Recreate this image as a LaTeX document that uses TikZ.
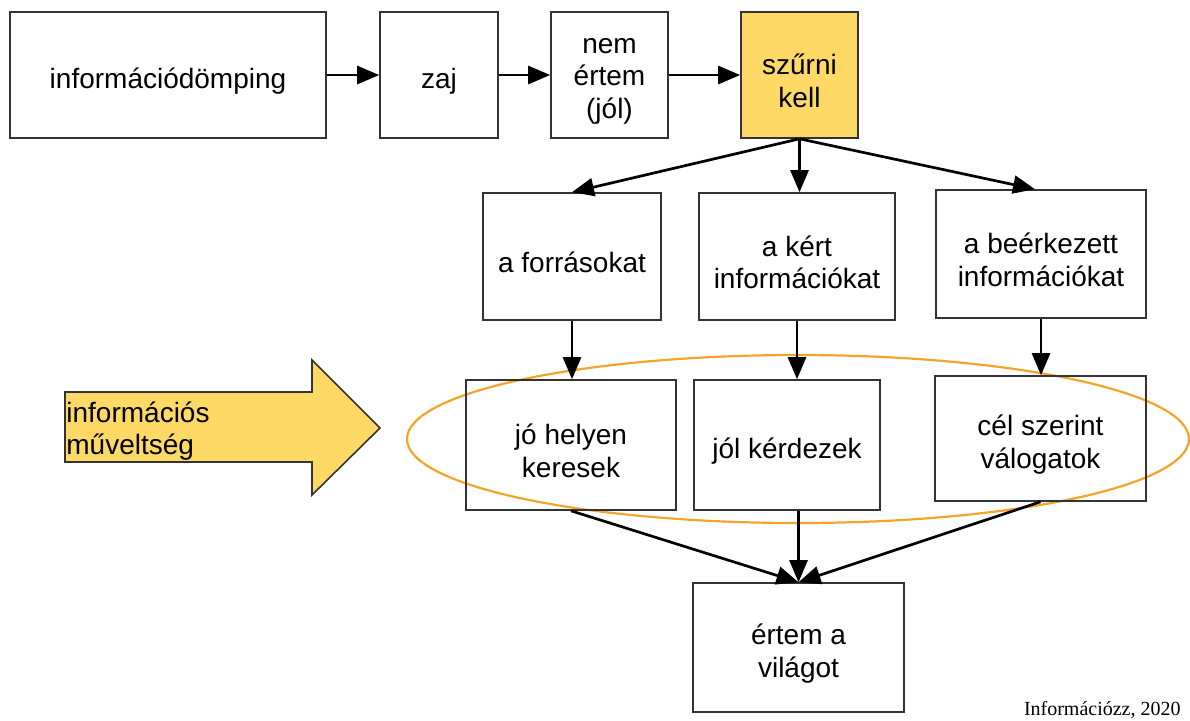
\documentclass[tikz,border=0pt]{standalone}
\usepackage{fontspec}
\setmainfont{Liberation Sans}
\newfontfamily\creditfont{Liberation Serif}
\usetikzlibrary{arrows.meta}
\definecolor{boxline}{HTML}{333333}
\definecolor{hilite}{HTML}{FFD966}
\definecolor{ringcol}{HTML}{F4A428}
\begin{document}
\begin{tikzpicture}[x=0.5pt,y=-0.5pt,
  every node/.style={font=\fontsize{14}{16.3}\selectfont},
  stepbox/.style={draw=boxline,line width=0.8pt,fill=white,inner sep=0pt},
  boxtext/.style={label={[align=center,inner sep=0pt,yshift=-3pt]center:{#1}}},
  flow/.style={draw=black,line width=1.35pt,-{Triangle[length=11pt,width=9pt]}}]
\useasboundingbox (0,0) rectangle (1190,720);

% top row
\node[stepbox,minimum width=158pt,minimum height=63pt,boxtext={információdömping}] (dump) at (168,75) {};
\node[stepbox,minimum width=59pt,minimum height=63pt,boxtext={zaj}] (zaj) at (439,75) {};
\node[stepbox,minimum width=58.5pt,minimum height=63pt,boxtext={nem\\értem\\(jól)}] (nem) at (609.5,75) {};
\node[stepbox,fill=hilite,minimum width=58.5pt,minimum height=63pt,boxtext={szűrni\\kell}] (szur) at (799.5,75) {};

% middle row
\node[stepbox,minimum width=89pt,minimum height=63.5pt,boxtext={a forrásokat}] (forras) at (572,256.5) {};
\node[stepbox,minimum width=98pt,minimum height=63.5pt,boxtext={a kért\\információkat}] (kert) at (797,256.5) {};
\node[stepbox,minimum width=105pt,minimum height=64pt,boxtext={a beérkezett\\információkat}] (beerk) at (1041,254) {};

% highlighted ring behind the skills row
\draw[ringcol,line width=1.1pt] (798,439) ellipse [x radius=391,y radius=84];

% skills row
\node[stepbox,fill=none,minimum width=105pt,minimum height=65pt,boxtext={jó helyen\\keresek}] (hely) at (571,445) {};
\node[stepbox,fill=none,minimum width=93pt,minimum height=65pt,boxtext={jól kérdezek}] (kerd) at (787,445) {};
\node[stepbox,fill=none,minimum width=105.5pt,minimum height=62.5pt,boxtext={cél szerint\\válogatok}] (cel) at (1040.5,438.5) {};

% result
\node[stepbox,minimum width=105.5pt,minimum height=64.5pt,boxtext={értem a\\világot}] (vilag) at (798.5,647.5) {};

% big arrow
\draw[draw=boxline,line width=0.8pt,fill=hilite]
  (65,392) -- (312,392) -- (312,360) -- (380,428) -- (312,495) -- (312,462) -- (65,462) -- cycle;
\node[anchor=west,align=left,inner sep=0pt] (muv) at (66,431) {információs\\műveltség};

% connectors
\draw[flow] (dump) -- (zaj);
\draw[flow] (zaj) -- (nem);
\draw[flow] (nem) -- (szur);
\draw[flow] (szur.south) -- (forras.north);
\draw[flow] (szur.south) -- (szur.south |- kert.north);
\draw[flow] (szur.south) -- ([xshift=-3pt]beerk.north);
\draw[flow] (forras) -- (forras |- hely.north);
\draw[flow] (kert.south) -- (kert.south |- kerd.north);
\draw[flow] (beerk) -- (beerk |- cel.north);
\draw[flow] (hely.south) -- (vilag.north);
\draw[flow] (vilag.north |- kerd.south) -- (vilag.north);
\draw[flow] (cel.south) -- (vilag.north);

\node[anchor=east,inner sep=0pt,font=\creditfont\fontsize{10}{12}\selectfont] (credit) at (1181,710) {Információzz, 2020};
\end{tikzpicture}
\end{document}
